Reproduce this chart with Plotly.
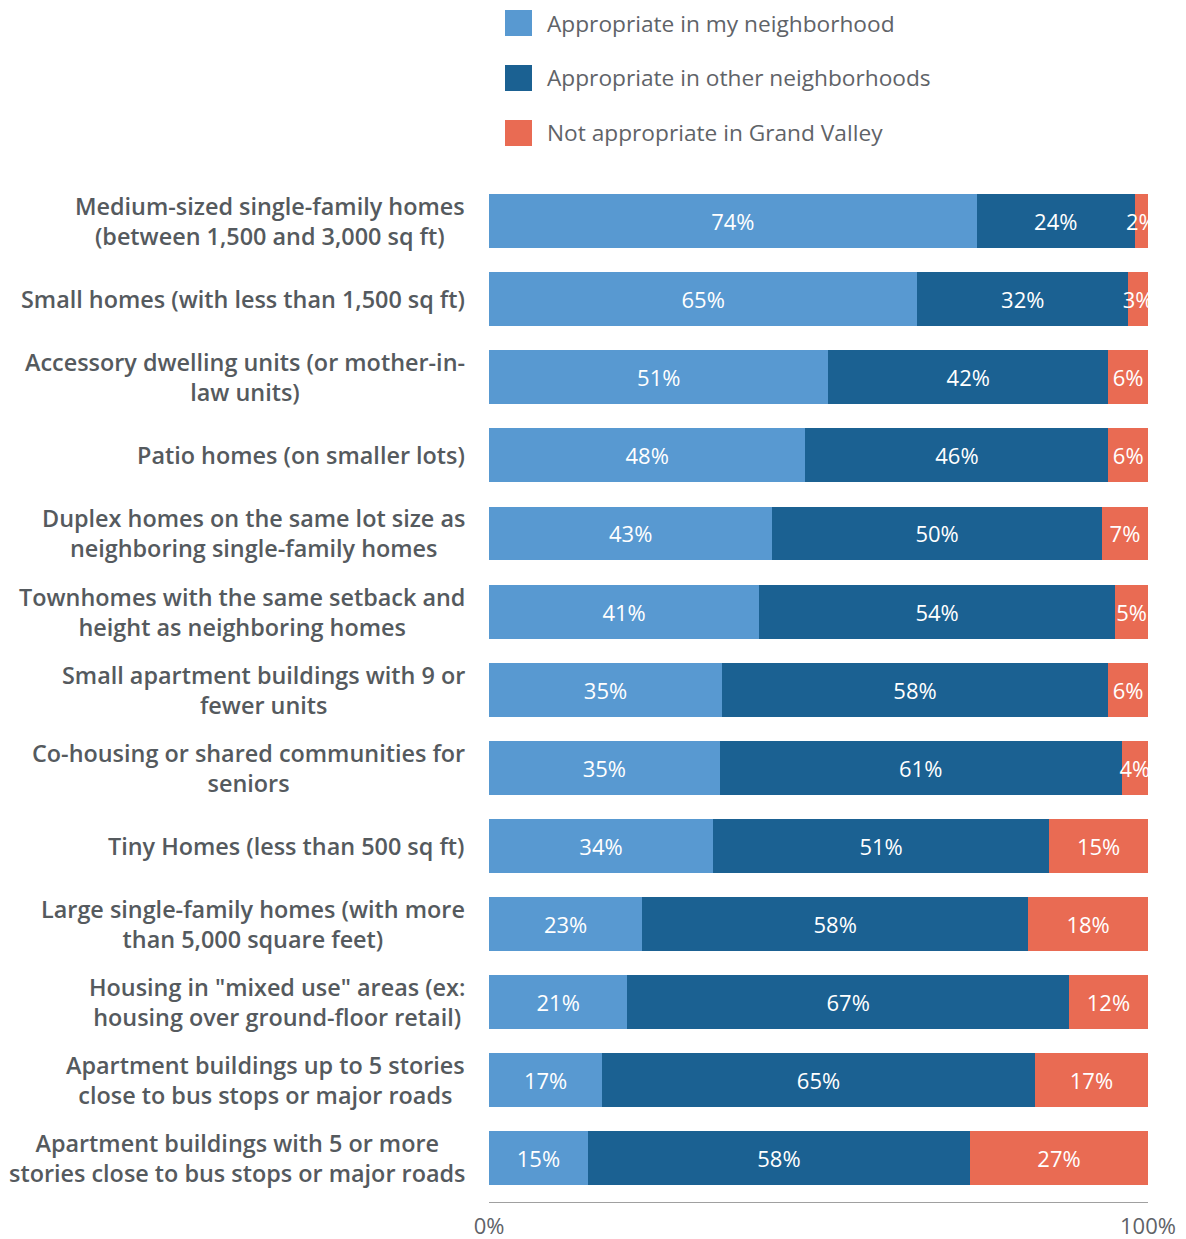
import plotly.graph_objects as go

categories = [
    "Medium-sized single-family homes<br>(between 1,500 and 3,000 sq ft)",
    "Small homes (with less than 1,500 sq ft)",
    "Accessory dwelling units (or mother-in-<br>law units)",
    "Patio homes (on smaller lots)",
    "Duplex homes on the same lot size as<br>neighboring single-family homes",
    "Townhomes with the same setback and<br>height as neighboring homes",
    "Small apartment buildings with 9 or<br>fewer units",
    "Co-housing or shared communities for<br>seniors",
    "Tiny Homes (less than 500 sq ft)",
    "Large single-family homes (with more<br>than 5,000 square feet)",
    "Housing in \"mixed use\" areas (ex:<br>housing over ground-floor retail)",
    "Apartment buildings up to 5 stories<br>close to bus stops or major roads",
    "Apartment buildings with 5 or more<br>stories close to bus stops or major roads",
]

series_names = [
    "Appropriate in my neighborhood",
    "Appropriate in other neighborhoods",
    "Not appropriate in Grand Valley",
]
my_neighborhood = [74, 65, 51, 48, 43, 41, 35, 35, 34, 23, 21, 17, 15]
other_neighborhoods = [24, 32, 42, 46, 50, 54, 58, 61, 51, 58, 67, 65, 58]
not_appropriate = [2, 3, 6, 6, 7, 5, 6, 4, 15, 18, 12, 17, 27]
series_values = [my_neighborhood, other_neighborhoods, not_appropriate]
colors = ["#5899D1", "#1B6192", "#E96B53"]

tick_vals = [0, 100]
tick_text = ["0%", "100%"]

FONT = "Open Sans"
OFF = 8  # page body margin
W, H = 1186 - 2 * OFF, 1239 - OFF
L, T = 489 - OFF, 182 - OFF
R = W - (1148 - OFF)
B = H - (1202 - OFF)
plot_w = W - L - R
plot_h = H - T - B

fig = go.Figure()
for name, vals, col in zip(series_names, series_values, colors):
    fig.add_trace(go.Bar(
        y=list(range(len(categories))),
        x=vals,
        name=name,
        orientation="h",
        marker=dict(color=col, line=dict(width=0)),
        text=[f"{v}%" for v in vals],
        textposition="inside",
        insidetextanchor="middle",
        textangle=0,
        textfont=dict(family=FONT, size=22, color="white"),
        cliponaxis=True,
        showlegend=False,
        hoverinfo="skip",
    ))

# category labels (centered lines, right-anchored block)
for i, c in enumerate(categories):
    fig.add_annotation(
        x=-0.0335, xref="paper", y=i, yref="y",
        text=c, showarrow=False, xanchor="right", yanchor="middle",
        align="center",
        font=dict(family=FONT, size=23.4, color="#555a5e", weight=600),
    )

# legend drawn manually (screen coords converted to paper)
def px_to_paper_y(py):
    return ((H + OFF - B) - py) / plot_h

def px_to_paper_x(px):
    return (px - (L + OFF)) / plot_w

leg_py = [23, 78, 133]
for name, col, py in zip(series_names, colors, leg_py):
    fig.add_shape(type="rect", xref="paper", yref="paper",
                  x0=px_to_paper_x(505), x1=px_to_paper_x(532),
                  y0=px_to_paper_y(py + 13), y1=px_to_paper_y(py - 13),
                  fillcolor=col, line=dict(width=0))
    fig.add_annotation(
        x=px_to_paper_x(544.5), xref="paper", y=px_to_paper_y(py), yref="paper",
        text=name, showarrow=False, xanchor="left", yanchor="middle",
        font=dict(family=FONT, size=22.7, color="#5f6368"),
    )

fig.update_layout(
    template="none",
    barmode="stack",
    barnorm="percent",
    bargap=0.31,
    width=W, height=H,
    margin=dict(l=L, r=R, t=T, b=B, pad=0, autoexpand=False),
    paper_bgcolor="white",
    plot_bgcolor="white",
    uniformtext=dict(minsize=22, mode="show"),
    xaxis=dict(
        range=[0, 100],
        tickvals=tick_vals, ticktext=tick_text,
        ticks="inside", ticklen=7, tickcolor="#a0a0a0", tickwidth=1,
        showline=True, linecolor="#a0a0a0", linewidth=1,
        showgrid=False, zeroline=False,
        ticklabelstandoff=5,
        automargin=False,
        tickfont=dict(family=FONT, size=22, color="#5f6368"),
        fixedrange=True,
    ),
    yaxis=dict(
        range=[len(categories) - 0.5 + 0.06, -0.5],
        showticklabels=False, showgrid=False, zeroline=False,
        showline=False, ticks="",
        automargin=False,
        fixedrange=True,
    ),
)

fig.write_html("out.html")
